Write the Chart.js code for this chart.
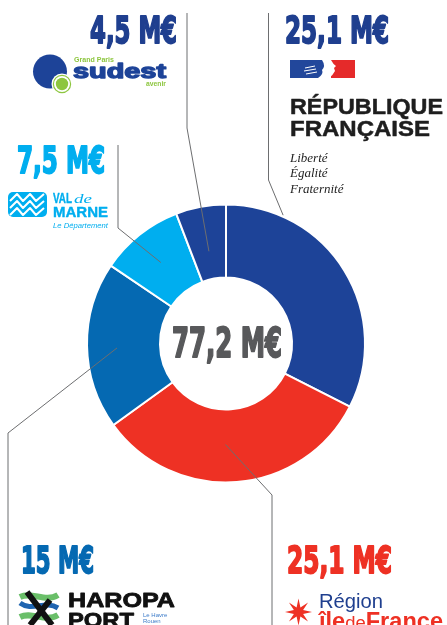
<!DOCTYPE html>
<html>
<head>
<meta charset="utf-8">
<script src="https://cdn.jsdelivr.net/npm/chart.js@4/dist/chart.umd.min.js"></script>
<style>
  html, body { margin: 0; padding: 0; background: #ffffff; }
  #c { display: block; }
</style>
</head>
<body>
<canvas id="c" width="447" height="625"></canvas>
<script>
// ---------- DATA ----------
const categories = ['République française (État)', 'Région Île-de-France', 'HAROPA PORT', 'Val-de-Marne', 'Grand Paris Sud Est Avenir'];
const amounts = [25.1, 25.1, 15, 7.5, 4.5];
const amountLabels = ['25,1 M€', '25,1 M€', '15 M€', '7,5 M€', '4,5 M€'];
const totalLabel = '77,2 M€';
const sliceColors = ['#1d4398', '#ee3124', '#0569b2', '#00aeef', '#1d4398'];
const labelColors = ['#1f3f8f', '#ee3124', '#0569b2', '#00aeef', '#1f3f8f'];

// ---------- LAYOUT (annotation placement only) ----------
const anchorAngleFrac = [0.205, 0.54, 0.48, 0.49, 0.5];
const anchorRadiusFrac = [1.02, 0.48, 0.59, 0.52, 0.38];
const leaderBends = [[268.5, 180], [272, 495], [8, 433], [118, 228], [187, 128]];
const leaderEnds = [[268.5, 13], [272, 625], [8, 625], [118, 145], [187, 13]];
const labelPos = [
  [285, 43, 104, 'left'],
  [287, 573, 105, 'left'],
  [21, 573, 73, 'left'],
  [17, 173, 88, 'left'],
  [177, 43, 87, 'right']
];

const NUM_FONT = "bold 37px 'DejaVu Sans Condensed', 'Liberation Sans Narrow', 'DejaVu Sans', sans-serif";
const SANS = "'Liberation Sans', Arial, sans-serif";

function fitText(ctx, text, x, baseline, font, width, align, color, strokeW) {
  ctx.save();
  ctx.font = font;
  const w = ctx.measureText(text).width;
  const s = width / w;
  const x0 = align === 'right' ? x - width : (align === 'center' ? x - width / 2 : x);
  ctx.translate(x0, baseline);
  ctx.scale(s, 1);
  ctx.textAlign = 'left';
  ctx.textBaseline = 'alphabetic';
  ctx.fillStyle = color;
  ctx.fillText(text, 0, 0);
  if (strokeW) {
    ctx.lineWidth = strokeW;
    ctx.strokeStyle = color;
    ctx.lineJoin = 'round';
    ctx.strokeText(text, 0, 0);
  }
  ctx.restore();
}

function drawSudest(ctx) {
  ctx.save();
  ctx.fillStyle = '#1d4398';
  ctx.beginPath(); ctx.arc(50, 71.5, 17, 0, Math.PI * 2); ctx.fill();
  ctx.fillStyle = '#ffffff';
  ctx.beginPath(); ctx.arc(62, 84, 10.5, 0, Math.PI * 2); ctx.fill();
  ctx.strokeStyle = '#8dc63f'; ctx.lineWidth = 1.2;
  ctx.beginPath(); ctx.arc(62, 84, 8.6, 0, Math.PI * 2); ctx.stroke();
  ctx.fillStyle = '#8dc63f';
  ctx.beginPath(); ctx.arc(62, 84, 6.2, 0, Math.PI * 2); ctx.fill();
  ctx.restore();
  fitText(ctx, 'Grand Paris', 74, 62, "bold 8px " + SANS, 40, 'left', '#8dc63f');
  fitText(ctx, 'sudest', 73, 78, "bold 21px " + SANS, 93, 'left', '#1d4398', 1.4);
  fitText(ctx, 'avenir', 166, 86, "bold 7px " + SANS, 20, 'right', '#8dc63f');
}

function drawRF(ctx) {
  ctx.save();
  ctx.fillStyle = '#22479b';
  ctx.fillRect(290, 60, 38, 18);
  ctx.fillStyle = '#e52a2a';
  ctx.fillRect(331, 60, 24, 18);
  ctx.fillStyle = '#ffffff';
  ctx.beginPath();
  ctx.moveTo(322, 60); ctx.lineTo(331, 60);
  ctx.quadraticCurveTo(333, 64, 336, 66);
  ctx.lineTo(334, 68); ctx.lineTo(335, 71);
  ctx.quadraticCurveTo(333, 75, 329, 78);
  ctx.lineTo(318, 78);
  ctx.quadraticCurveTo(324, 74, 322, 70);
  ctx.quadraticCurveTo(326, 66, 322, 60);
  ctx.fill();
  ctx.strokeStyle = '#ffffff'; ctx.lineWidth = 1;
  ctx.beginPath();
  ctx.moveTo(305, 68); ctx.lineTo(315, 66);
  ctx.moveTo(304, 71); ctx.lineTo(316, 69);
  ctx.moveTo(306, 74); ctx.lineTo(317, 72);
  ctx.stroke();
  ctx.restore();
  fitText(ctx, 'RÉPUBLIQUE', 290, 114, "bold 22px " + SANS, 153, 'left', '#1e1e1e', 0.5);
  fitText(ctx, 'FRANÇAISE', 290, 136, "bold 22px " + SANS, 140, 'left', '#1e1e1e', 0.5);
  ctx.save();
  ctx.fillStyle = '#1e1e1e';
  ctx.font = "italic 13px 'Liberation Serif', 'DejaVu Serif', serif";
  ctx.textAlign = 'left'; ctx.textBaseline = 'alphabetic';
  ctx.fillText('Liberté', 290, 162);
  ctx.fillText('Égalité', 290, 177);
  ctx.fillText('Fraternité', 290, 193);
  ctx.restore();
}

function drawVdM(ctx) {
  ctx.save();
  ctx.fillStyle = '#00aeef';
  ctx.beginPath();
  ctx.roundRect(8, 192, 39, 25, 5);
  ctx.fill();
  ctx.strokeStyle = '#ffffff'; ctx.lineWidth = 2; ctx.lineJoin = 'round';
  [197, 204, 211].forEach(function (y) {
    ctx.beginPath();
    ctx.moveTo(10, y + 4);
    ctx.lineTo(17, y - 3);
    ctx.lineTo(23, y + 4);
    ctx.lineTo(30, y - 3);
    ctx.lineTo(36, y + 4);
    ctx.lineTo(44, y - 3);
    ctx.stroke();
  });
  ctx.restore();
  fitText(ctx, 'VAL', 53, 203, "bold 14px " + SANS, 19, 'left', '#00aeef', 0.4);
  fitText(ctx, 'de', 74, 203, "italic 13px 'Liberation Serif', serif", 18, 'left', '#00aeef');
  fitText(ctx, 'MARNE', 53, 217, "bold 15px " + SANS, 55, 'left', '#00aeef', 0.4);
  fitText(ctx, 'Le Département', 53, 228, "italic 8px " + SANS, 55, 'left', '#00aeef');
}

function drawHaropa(ctx) {
  ctx.save();
  ctx.lineCap = 'butt';
  ctx.strokeStyle = '#6abf69'; ctx.lineWidth = 6;
  ctx.beginPath(); ctx.moveTo(20, 597); ctx.bezierCurveTo(32, 591, 45, 603, 58, 595); ctx.stroke();
  ctx.beginPath(); ctx.moveTo(20, 617); ctx.bezierCurveTo(32, 611, 45, 623, 58, 615); ctx.stroke();
  ctx.strokeStyle = '#1f64b0'; ctx.lineWidth = 5;
  ctx.beginPath(); ctx.moveTo(20, 603); ctx.bezierCurveTo(32, 612, 45, 600, 58, 608); ctx.stroke();
  ctx.strokeStyle = '#111111'; ctx.lineWidth = 6;
  ctx.beginPath(); ctx.moveTo(27, 592); ctx.lineTo(52, 625); ctx.stroke();
  ctx.beginPath(); ctx.moveTo(50, 600); ctx.lineTo(30, 625); ctx.stroke();
  ctx.restore();
  fitText(ctx, 'HAROPA', 68, 607, "bold 21px " + SANS, 107, 'left', '#111111', 0.8);
  fitText(ctx, 'PORT', 68, 627, "bold 21px " + SANS, 66, 'left', '#111111', 0.8);
  ctx.save();
  ctx.fillStyle = '#3d7cc9';
  ctx.font = "6px " + SANS;
  ctx.fillText('Le Havre', 143, 617);
  ctx.fillText('Rouen', 143, 623);
  ctx.fillText('Paris', 143, 629);
  ctx.restore();
}

function drawIdF(ctx) {
  ctx.save();
  ctx.fillStyle = '#ee3124';
  const cx = 298.5, cy = 612, ro = 13.5, ri = 5, n = 8;
  ctx.beginPath();
  for (let i = 0; i < n * 2; i++) {
    const r = i % 2 === 0 ? ro : ri;
    const a = -Math.PI / 2 + i * Math.PI / n;
    const px = cx + r * Math.cos(a), py = cy + r * Math.sin(a);
    if (i === 0) ctx.moveTo(px, py); else ctx.lineTo(px, py);
  }
  ctx.closePath(); ctx.fill();
  ctx.restore();
  fitText(ctx, 'Région', 319, 608, "21px " + SANS, 64, 'left', '#1f3f8f');
  ctx.save();
  ctx.fillStyle = '#ee3124';
  ctx.textBaseline = 'alphabetic';
  const parts = [['île', 'bold 23px ' + SANS], ['de', '18px ' + SANS], ['France', 'bold 23px ' + SANS]];
  let total = 0;
  parts.forEach(function (p) { ctx.font = p[1]; total += ctx.measureText(p[0]).width; });
  const s = 124 / total;
  ctx.translate(319, 629);
  ctx.scale(s, 1);
  let x = 0;
  parts.forEach(function (p) {
    ctx.font = p[1];
    ctx.fillText(p[0], x, 0);
    x += ctx.measureText(p[0]).width;
  });
  ctx.restore();
}

const annotations = {
  id: 'annotations',
  beforeDraw(chart) {
    const ctx = chart.ctx;
    ctx.save();
    ctx.fillStyle = '#ffffff';
    ctx.fillRect(0, 0, chart.width, chart.height);
    ctx.restore();
  },
  afterDatasetsDraw(chart) {
    const ctx = chart.ctx;
    const meta = chart.getDatasetMeta(0);
    ctx.save();
    ctx.strokeStyle = '#6d6e70';
    ctx.lineWidth = 1;
    meta.data.forEach(function (arc, i) {
      const p = arc.getProps(['x', 'y', 'startAngle', 'endAngle', 'innerRadius', 'outerRadius'], true);
      const a = p.startAngle + anchorAngleFrac[i] * (p.endAngle - p.startAngle);
      const r = p.innerRadius + anchorRadiusFrac[i] * (p.outerRadius - p.innerRadius);
      const ax = p.x + r * Math.cos(a), ay = p.y + r * Math.sin(a);
      ctx.beginPath();
      ctx.moveTo(ax, ay);
      ctx.lineTo(leaderBends[i][0], leaderBends[i][1]);
      ctx.lineTo(leaderEnds[i][0], leaderEnds[i][1]);
      ctx.stroke();
    });
    ctx.restore();
    amountLabels.forEach(function (t, i) {
      const lp = labelPos[i];
      fitText(ctx, t, lp[0], lp[1], NUM_FONT, lp[2], lp[3], labelColors[i], 1.8);
    });
    const c = meta.data[0];
    fitText(ctx, totalLabel, c.x + 1, c.y + 13.5, "bold 40px 'DejaVu Sans Condensed', 'Liberation Sans Narrow', 'DejaVu Sans', sans-serif", 110, 'center', '#58595b', 1.8);
    drawSudest(ctx);
    drawRF(ctx);
    drawVdM(ctx);
    drawHaropa(ctx);
    drawIdF(ctx);
  }
};

new Chart(document.getElementById('c'), {
  type: 'doughnut',
  data: {
    labels: categories,
    datasets: [{
      data: amounts,
      backgroundColor: sliceColors,
      borderColor: '#ffffff',
      borderWidth: 2,
      radius: 139,
      cutout: '47.5%'
    }]
  },
  options: {
    responsive: false,
    animation: false,
    events: [],
    layout: { padding: { left: 88, right: 83, top: 205, bottom: 143 } },
    plugins: { legend: { display: false }, tooltip: { enabled: false } }
  },
  plugins: [annotations]
});
</script>
</body>
</html>
